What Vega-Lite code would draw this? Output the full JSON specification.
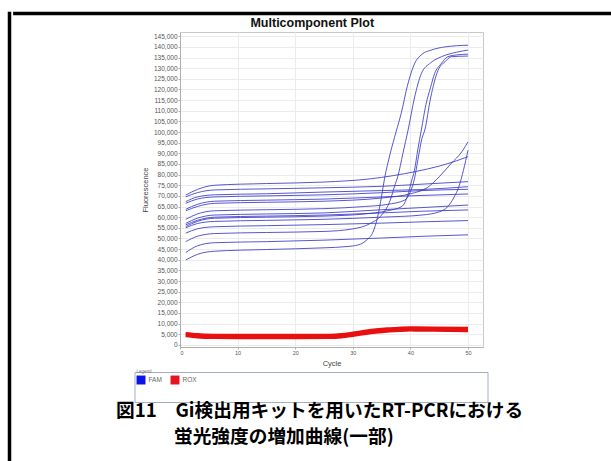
{
  "$schema": "https://vega.github.io/schema/vega-lite/v6.json",
  "padding": {"left": 7, "top": 11, "right": 0, "bottom": 0},
  "background": "white",
  "config": {
    "view": {"stroke": "#c8c8c8"},
    "font": "Liberation Sans",
    "axis": {"labelFont": "Liberation Sans", "titleFont": "Liberation Sans", "labelColor": "#555", "titleColor": "#444", "domainColor": "#b0b0b0", "tickColor": "#b0b0b0", "gridColor": "#ececec", "tickSize": 2, "titleFontWeight": "normal"}
  },
  "spacing": 0,
  "title": {
    "text": "蛍光強度の増加曲線(一部)",
    "orient": "bottom", "anchor": "start", "align": "left", "frame": "group",
    "dx": 165, "offset": -38, "fontSize": 18.7, "fontWeight": "bold",
    "font": "Noto Sans CJK JP", "color": "#000000"
  },
  "hconcat": [
    {
      "width": 1, "height": 452,
      "view": {"stroke": "#000000", "strokeWidth": 2.5},
      "data": {"values": [{}]},
      "mark": "rule",
      "encoding": {}
    },
    {
      "spacing": 0,
      "center": true,
      "resolve": {"scale": {"color": "independent"}, "legend": {"color": "independent"}},
      "title": {
        "text": "図11　Gi検出用キットを用いたRT-PCRにおける",
        "orient": "bottom", "anchor": "start", "align": "left", "frame": "group",
        "dx": 102, "offset": -1, "fontSize": 18.7, "fontWeight": "bold",
        "font": "Noto Sans CJK JP", "color": "#000000"
      },
      "vconcat": [
        {
          "width": 610, "height": 1,
          "view": {"stroke": "#000000", "strokeWidth": 2.5},
          "data": {"values": [{}]},
          "mark": "rule",
          "encoding": {}
        },
        {
          "spacing": 0,
          "hconcat": [
            {
              "width": 1, "height": 1,
              "view": {"stroke": null},
              "data": {"values": [{}]},
              "mark": "rule",
              "encoding": {}
            },
            {
              "width": 303, "height": 315,
              "title": {"text": "Multicomponent Plot", "frame": "bounds", "fontSize": 12.5, "fontWeight": "bold", "font": "Liberation Sans", "color": "#111", "offset": 3},
              "data": {"values": [
                {"w":"F01","d":"FAM","c":1,"v":70400},{"w":"F01","d":"FAM","c":3,"v":73000},{"w":"F01","d":"FAM","c":6,"v":75000},{"w":"F01","d":"FAM","c":15,"v":75800},{"w":"F01","d":"FAM","c":25,"v":76500},{"w":"F01","d":"FAM","c":33,"v":78000},{"w":"F01","d":"FAM","c":37,"v":79500},{"w":"F01","d":"FAM","c":41,"v":81500},{"w":"F01","d":"FAM","c":45,"v":84000},{"w":"F01","d":"FAM","c":48,"v":86500},{"w":"F01","d":"FAM","c":50,"v":88400},
                {"w":"F02","d":"FAM","c":1,"v":69600},{"w":"F02","d":"FAM","c":3,"v":71500},{"w":"F02","d":"FAM","c":6,"v":72800},{"w":"F02","d":"FAM","c":15,"v":73300},{"w":"F02","d":"FAM","c":25,"v":73800},{"w":"F02","d":"FAM","c":35,"v":74500},{"w":"F02","d":"FAM","c":42,"v":75500},{"w":"F02","d":"FAM","c":50,"v":76700},
                {"w":"F03","d":"FAM","c":1,"v":67300},{"w":"F03","d":"FAM","c":3,"v":69500},{"w":"F03","d":"FAM","c":6,"v":70500},{"w":"F03","d":"FAM","c":15,"v":71000},{"w":"F03","d":"FAM","c":25,"v":71800},{"w":"F03","d":"FAM","c":35,"v":72500},{"w":"F03","d":"FAM","c":42,"v":73000},{"w":"F03","d":"FAM","c":50,"v":74300},
                {"w":"F04","d":"FAM","c":1,"v":66500},{"w":"F04","d":"FAM","c":3,"v":68500},{"w":"F04","d":"FAM","c":6,"v":69500},{"w":"F04","d":"FAM","c":15,"v":70000},{"w":"F04","d":"FAM","c":25,"v":70500},{"w":"F04","d":"FAM","c":35,"v":71500},{"w":"F04","d":"FAM","c":42,"v":72500},{"w":"F04","d":"FAM","c":50,"v":73100},
                {"w":"F05","d":"FAM","c":1,"v":63700},{"w":"F05","d":"FAM","c":3,"v":66000},{"w":"F05","d":"FAM","c":6,"v":67500},{"w":"F05","d":"FAM","c":15,"v":68000},{"w":"F05","d":"FAM","c":25,"v":68500},{"w":"F05","d":"FAM","c":35,"v":69500},{"w":"F05","d":"FAM","c":42,"v":70200},{"w":"F05","d":"FAM","c":50,"v":70900},
                {"w":"F06","d":"FAM","c":1,"v":63000},{"w":"F06","d":"FAM","c":3,"v":65000},{"w":"F06","d":"FAM","c":6,"v":66500},{"w":"F06","d":"FAM","c":15,"v":67000},{"w":"F06","d":"FAM","c":25,"v":67500},{"w":"F06","d":"FAM","c":35,"v":69000},{"w":"F06","d":"FAM","c":40,"v":71000},{"w":"F06","d":"FAM","c":43,"v":74000},{"w":"F06","d":"FAM","c":45,"v":79000},{"w":"F06","d":"FAM","c":47,"v":85000},{"w":"F06","d":"FAM","c":49,"v":91000},{"w":"F06","d":"FAM","c":50,"v":95400},
                {"w":"F07","d":"FAM","c":1,"v":57100},{"w":"F07","d":"FAM","c":3,"v":59500},{"w":"F07","d":"FAM","c":6,"v":61000},{"w":"F07","d":"FAM","c":15,"v":61500},{"w":"F07","d":"FAM","c":25,"v":62000},{"w":"F07","d":"FAM","c":35,"v":63500},{"w":"F07","d":"FAM","c":42,"v":64500},{"w":"F07","d":"FAM","c":50,"v":65700},
                {"w":"F08","d":"FAM","c":1,"v":56400},{"w":"F08","d":"FAM","c":3,"v":58500},{"w":"F08","d":"FAM","c":6,"v":60000},{"w":"F08","d":"FAM","c":15,"v":60500},{"w":"F08","d":"FAM","c":25,"v":61000},{"w":"F08","d":"FAM","c":35,"v":62000},{"w":"F08","d":"FAM","c":42,"v":62800},{"w":"F08","d":"FAM","c":50,"v":63400},
                {"w":"F09","d":"FAM","c":1,"v":52500},{"w":"F09","d":"FAM","c":3,"v":54500},{"w":"F09","d":"FAM","c":6,"v":55500},{"w":"F09","d":"FAM","c":15,"v":56000},{"w":"F09","d":"FAM","c":25,"v":56500},{"w":"F09","d":"FAM","c":35,"v":57200},{"w":"F09","d":"FAM","c":42,"v":57800},{"w":"F09","d":"FAM","c":50,"v":58400},
                {"w":"F10","d":"FAM","c":1,"v":43400},{"w":"F10","d":"FAM","c":3,"v":46500},{"w":"F10","d":"FAM","c":6,"v":48000},{"w":"F10","d":"FAM","c":15,"v":48500},{"w":"F10","d":"FAM","c":25,"v":49200},{"w":"F10","d":"FAM","c":35,"v":50200},{"w":"F10","d":"FAM","c":42,"v":51000},{"w":"F10","d":"FAM","c":50,"v":51700},
                {"w":"F11","d":"FAM","c":1,"v":55000},{"w":"F11","d":"FAM","c":3,"v":57000},{"w":"F11","d":"FAM","c":6,"v":58000},{"w":"F11","d":"FAM","c":15,"v":58500},{"w":"F11","d":"FAM","c":25,"v":59000},{"w":"F11","d":"FAM","c":35,"v":60000},{"w":"F11","d":"FAM","c":42,"v":61000},{"w":"F11","d":"FAM","c":45,"v":62500},{"w":"F11","d":"FAM","c":46.5,"v":65000},{"w":"F11","d":"FAM","c":47.5,"v":69000},{"w":"F11","d":"FAM","c":48.5,"v":75000},{"w":"F11","d":"FAM","c":49.2,"v":82000},{"w":"F11","d":"FAM","c":50,"v":91500},
                {"w":"S1","d":"FAM","c":1,"v":39900},{"w":"S1","d":"FAM","c":3,"v":42500},{"w":"S1","d":"FAM","c":6,"v":44000},{"w":"S1","d":"FAM","c":15,"v":44800},{"w":"S1","d":"FAM","c":25,"v":45600},{"w":"S1","d":"FAM","c":29,"v":46200},{"w":"S1","d":"FAM","c":31,"v":47000},{"w":"S1","d":"FAM","c":32.5,"v":49500},{"w":"S1","d":"FAM","c":33.5,"v":53000},{"w":"S1","d":"FAM","c":34.3,"v":60000},{"w":"S1","d":"FAM","c":35,"v":70000},{"w":"S1","d":"FAM","c":35.5,"v":78000},{"w":"S1","d":"FAM","c":36.5,"v":90000},{"w":"S1","d":"FAM","c":37.5,"v":100000},{"w":"S1","d":"FAM","c":38.4,"v":108800},{"w":"S1","d":"FAM","c":39.5,"v":122000},{"w":"S1","d":"FAM","c":40.7,"v":132000},{"w":"S1","d":"FAM","c":42,"v":136500},{"w":"S1","d":"FAM","c":43.6,"v":138500},{"w":"S1","d":"FAM","c":46,"v":140000},{"w":"S1","d":"FAM","c":50,"v":140800},
                {"w":"S2","d":"FAM","c":1,"v":48500},{"w":"S2","d":"FAM","c":3,"v":51000},{"w":"S2","d":"FAM","c":6,"v":52300},{"w":"S2","d":"FAM","c":15,"v":52800},{"w":"S2","d":"FAM","c":25,"v":53300},{"w":"S2","d":"FAM","c":30,"v":54500},{"w":"S2","d":"FAM","c":33,"v":57000},{"w":"S2","d":"FAM","c":35,"v":61000},{"w":"S2","d":"FAM","c":36.5,"v":68000},{"w":"S2","d":"FAM","c":37.3,"v":75000},{"w":"S2","d":"FAM","c":37.8,"v":79000},{"w":"S2","d":"FAM","c":38.7,"v":90000},{"w":"S2","d":"FAM","c":39.6,"v":101000},{"w":"S2","d":"FAM","c":40.7,"v":116000},{"w":"S2","d":"FAM","c":41.9,"v":127500},{"w":"S2","d":"FAM","c":43.5,"v":132500},{"w":"S2","d":"FAM","c":45.4,"v":135400},{"w":"S2","d":"FAM","c":48,"v":137500},{"w":"S2","d":"FAM","c":50,"v":138500},
                {"w":"S3","d":"FAM","c":1,"v":55600},{"w":"S3","d":"FAM","c":3,"v":58000},{"w":"S3","d":"FAM","c":6,"v":59500},{"w":"S3","d":"FAM","c":15,"v":60000},{"w":"S3","d":"FAM","c":25,"v":60500},{"w":"S3","d":"FAM","c":32,"v":61500},{"w":"S3","d":"FAM","c":36,"v":63000},{"w":"S3","d":"FAM","c":38.5,"v":65000},{"w":"S3","d":"FAM","c":39.5,"v":70000},{"w":"S3","d":"FAM","c":40.2,"v":77000},{"w":"S3","d":"FAM","c":40.7,"v":82000},{"w":"S3","d":"FAM","c":41.3,"v":92000},{"w":"S3","d":"FAM","c":41.9,"v":101000},{"w":"S3","d":"FAM","c":42.7,"v":113000},{"w":"S3","d":"FAM","c":43.5,"v":121000},{"w":"S3","d":"FAM","c":44.2,"v":127500},{"w":"S3","d":"FAM","c":45.3,"v":132000},{"w":"S3","d":"FAM","c":46.5,"v":135400},{"w":"S3","d":"FAM","c":48,"v":136200},{"w":"S3","d":"FAM","c":50,"v":136600},
                {"w":"S4","d":"FAM","c":1,"v":59000},{"w":"S4","d":"FAM","c":3,"v":61500},{"w":"S4","d":"FAM","c":6,"v":63000},{"w":"S4","d":"FAM","c":15,"v":63500},{"w":"S4","d":"FAM","c":25,"v":64000},{"w":"S4","d":"FAM","c":32,"v":65000},{"w":"S4","d":"FAM","c":36,"v":66000},{"w":"S4","d":"FAM","c":39,"v":68000},{"w":"S4","d":"FAM","c":40,"v":72000},{"w":"S4","d":"FAM","c":40.7,"v":78000},{"w":"S4","d":"FAM","c":41.3,"v":87000},{"w":"S4","d":"FAM","c":42,"v":97000},{"w":"S4","d":"FAM","c":42.5,"v":101000},{"w":"S4","d":"FAM","c":43.5,"v":116000},{"w":"S4","d":"FAM","c":44.8,"v":129000},{"w":"S4","d":"FAM","c":46,"v":133000},{"w":"S4","d":"FAM","c":47.1,"v":135400},{"w":"S4","d":"FAM","c":50,"v":135700},
                {"w":"R1","d":"ROX","c":1,"v":4000},{"w":"R1","d":"ROX","c":3,"v":3500},{"w":"R1","d":"ROX","c":6,"v":3200},{"w":"R1","d":"ROX","c":10,"v":3100},{"w":"R1","d":"ROX","c":20,"v":3100},{"w":"R1","d":"ROX","c":26,"v":3200},{"w":"R1","d":"ROX","c":28,"v":3500},{"w":"R1","d":"ROX","c":30,"v":4200},{"w":"R1","d":"ROX","c":32,"v":5000},{"w":"R1","d":"ROX","c":34,"v":5700},{"w":"R1","d":"ROX","c":36,"v":6200},{"w":"R1","d":"ROX","c":38,"v":6500},{"w":"R1","d":"ROX","c":40,"v":6700},{"w":"R1","d":"ROX","c":44,"v":6600},{"w":"R1","d":"ROX","c":50,"v":6400},
                {"w":"R2","d":"ROX","c":1,"v":4400},{"w":"R2","d":"ROX","c":3,"v":3900},{"w":"R2","d":"ROX","c":6,"v":3600},{"w":"R2","d":"ROX","c":10,"v":3500},{"w":"R2","d":"ROX","c":20,"v":3500},{"w":"R2","d":"ROX","c":26,"v":3600},{"w":"R2","d":"ROX","c":28,"v":3900},{"w":"R2","d":"ROX","c":30,"v":4600},{"w":"R2","d":"ROX","c":32,"v":5400},{"w":"R2","d":"ROX","c":34,"v":6100},{"w":"R2","d":"ROX","c":36,"v":6600},{"w":"R2","d":"ROX","c":38,"v":6900},{"w":"R2","d":"ROX","c":40,"v":7100},{"w":"R2","d":"ROX","c":44,"v":7000},{"w":"R2","d":"ROX","c":50,"v":6800},
                {"w":"R3","d":"ROX","c":1,"v":4800},{"w":"R3","d":"ROX","c":3,"v":4300},{"w":"R3","d":"ROX","c":6,"v":4000},{"w":"R3","d":"ROX","c":10,"v":3900},{"w":"R3","d":"ROX","c":20,"v":3900},{"w":"R3","d":"ROX","c":26,"v":4000},{"w":"R3","d":"ROX","c":28,"v":4300},{"w":"R3","d":"ROX","c":30,"v":5000},{"w":"R3","d":"ROX","c":32,"v":5800},{"w":"R3","d":"ROX","c":34,"v":6500},{"w":"R3","d":"ROX","c":36,"v":7000},{"w":"R3","d":"ROX","c":38,"v":7300},{"w":"R3","d":"ROX","c":40,"v":7500},{"w":"R3","d":"ROX","c":44,"v":7400},{"w":"R3","d":"ROX","c":50,"v":7200},
                {"w":"R4","d":"ROX","c":1,"v":5200},{"w":"R4","d":"ROX","c":3,"v":4700},{"w":"R4","d":"ROX","c":6,"v":4400},{"w":"R4","d":"ROX","c":10,"v":4300},{"w":"R4","d":"ROX","c":20,"v":4300},{"w":"R4","d":"ROX","c":26,"v":4400},{"w":"R4","d":"ROX","c":28,"v":4700},{"w":"R4","d":"ROX","c":30,"v":5400},{"w":"R4","d":"ROX","c":32,"v":6200},{"w":"R4","d":"ROX","c":34,"v":6900},{"w":"R4","d":"ROX","c":36,"v":7400},{"w":"R4","d":"ROX","c":38,"v":7700},{"w":"R4","d":"ROX","c":40,"v":7900},{"w":"R4","d":"ROX","c":44,"v":7800},{"w":"R4","d":"ROX","c":50,"v":7600},
                {"w":"R5","d":"ROX","c":1,"v":5600},{"w":"R5","d":"ROX","c":3,"v":5100},{"w":"R5","d":"ROX","c":6,"v":4800},{"w":"R5","d":"ROX","c":10,"v":4700},{"w":"R5","d":"ROX","c":20,"v":4700},{"w":"R5","d":"ROX","c":26,"v":4800},{"w":"R5","d":"ROX","c":28,"v":5100},{"w":"R5","d":"ROX","c":30,"v":5800},{"w":"R5","d":"ROX","c":32,"v":6600},{"w":"R5","d":"ROX","c":34,"v":7300},{"w":"R5","d":"ROX","c":36,"v":7800},{"w":"R5","d":"ROX","c":38,"v":8100},{"w":"R5","d":"ROX","c":40,"v":8300},{"w":"R5","d":"ROX","c":44,"v":8200},{"w":"R5","d":"ROX","c":50,"v":8000}
              ]},
              "encoding": {
                "x": {"field": "c", "type": "quantitative", "scale": {"domain": [0, 52.6], "nice": false},
                  "axis": {"values": [0, 10, 20, 30, 40, 50], "title": "Cycle", "labelFontSize": 5.5, "titleFontSize": 7.5, "labelPadding": 1, "titlePadding": 4}},
                "y": {"field": "v", "type": "quantitative", "scale": {"domain": [-1000, 147000], "nice": false},
                  "axis": {"values": [0,5000,10000,15000,20000,25000,30000,35000,40000,45000,50000,55000,60000,65000,70000,75000,80000,85000,90000,95000,100000,105000,110000,115000,120000,125000,130000,135000,140000,145000],
                    "format": ",.0f", "title": "Fluorescence", "labelFontSize": 6.5, "titleFontSize": 7.5, "labelPadding": 1, "titlePadding": 4}},
                "detail": {"field": "w", "type": "nominal"}
              },
              "layer": [
                {"transform": [{"filter": "datum.d == 'FAM'"}],
                 "mark": {"type": "line", "color": "#3a3ac6", "strokeWidth": 1, "opacity": 0.85, "interpolate": "monotone"}},
                {"transform": [{"filter": "datum.d == 'ROX'"}],
                 "mark": {"type": "line", "color": "#e81010", "strokeWidth": 2, "interpolate": "monotone"}}
              ]
            },
            {
              "width": 15, "height": 1,
              "view": {"stroke": null},
              "data": {"values": [{}]},
              "mark": "rule",
              "encoding": {}
            }
          ]
        },
        {
          "spacing": 0,
          "resolve": {"scale": {"color": "independent"}, "legend": {"color": "independent"}},
          "hconcat": [
            {
              "width": 353, "height": 30,
              "view": {"stroke": "#a4aec2", "strokeWidth": 1},
              "data": {"values": [{"d": "FAM"}, {"d": "ROX"}]},
              "mark": {"type": "square", "opacity": 0},
              "encoding": {
                "color": {"field": "d", "type": "nominal",
                  "scale": {"domain": ["FAM", "ROX"], "range": ["#0a14e6", "#e6141e"]},
                  "legend": {"orient": "none", "legendX": 2, "legendY": -3, "direction": "horizontal",
                    "title": "Legend", "titleFontSize": 4.5, "titleColor": "#777", "titleFontWeight": "normal", "titlePadding": 2,
                    "symbolType": "square", "symbolSize": 80, "symbolStrokeWidth": 0, "symbolOpacity": 1,
                    "labelFontSize": 6.5, "labelColor": "#666", "columnPadding": 8, "labelOffset": 3}}
              }
            },
            {
              "width": 16, "height": 1,
              "view": {"stroke": null},
              "data": {"values": [{}]},
              "mark": "rule",
              "encoding": {}
            }
          ]
        }
      ]
    }
  ]
}
